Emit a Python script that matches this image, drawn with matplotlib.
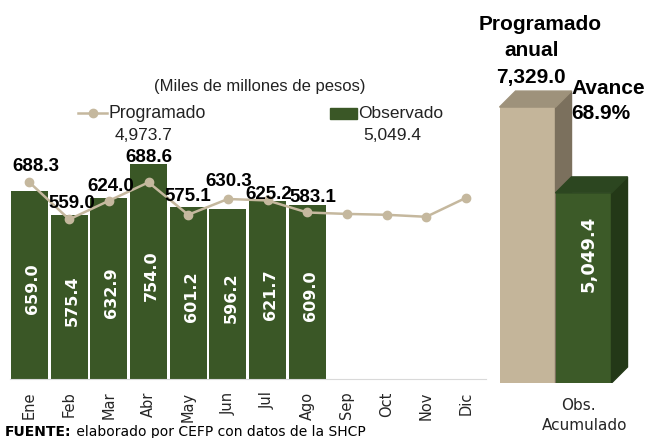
import numpy as np
import matplotlib.pyplot as plt
from matplotlib.lines import Line2D
from matplotlib.patches import Polygon, Rectangle

meses = ["Ene", "Feb", "Mar", "Abr", "May", "Jun",
         "Jul", "Ago", "Sep", "Oct", "Nov", "Dic"]
programado = [688.3, 559.0, 624.0, 688.6, 575.1, 630.3,
              625.2, 583.1, 578.0, 575.0, 568.0, 634.3]
observado = [659.0, 575.4, 632.9, 754.0, 601.2, 596.2, 621.7, 609.0]
total_programado = "4,973.7"
total_observado = "5,049.4"
programado_anual = 7329.0
observado_acumulado = 5049.4

# label offsets (pixels) for the programado values
offsets = [(6, 16), (3, 16), (2, 14), (0, 25), (0, 18), (1, 17), (1, 6), (6, 15)]

GREEN = "#3a5726"
TAN = "#c5b89e"
NARROW = ["Liberation Sans", "DejaVu Sans"]

W, H = 647, 438


def fx(x):
    return x / W


def fy(y):
    return 1 - y / H


def main():
    fig = plt.figure(figsize=(W / 100, H / 100), dpi=100)

    # monthly chart
    ax = fig.add_axes([9.66 / W, 59 / H, 476.1 / W, 319 / H])
    x = np.arange(len(meses))
    ax.bar(x[:len(observado)], observado, width=0.93, color=GREEN, zorder=2)
    ax.plot(x, programado, color=TAN, lw=1.8, marker="o", ms=6, zorder=3)
    ax.set_xlim(-0.5, 11.5)
    ax.set_ylim(0, 1117)
    for s in ["top", "right", "left"]:
        ax.spines[s].set_visible(False)
    ax.spines["bottom"].set_color("#d9d9d9")
    ax.set_yticks([])
    ax.set_xticks(x, meses, rotation=90, fontsize=10.5, color="#262626")
    ax.tick_params(axis="x", length=0, pad=9)

    for i, v in enumerate(programado[:len(observado)]):
        ax.annotate(f"{v:.1f}", (i, v), xytext=offsets[i], textcoords="offset pixels",
                    ha="center", va="center", fontsize=13.5, fontweight="bold",
                    family=NARROW, zorder=4)
    for i, v in enumerate(observado):
        ax.annotate(f"{v:.1f}", (i, v / 2), xytext=(3, -4), textcoords="offset pixels",
                    rotation=90, ha="center", va="center", color="white",
                    fontsize=11.5, fontweight="bold", zorder=4)

    # title and legend
    fig.text(fx(260), fy(87), "(Miles de millones de pesos)", ha="center", va="center",
             fontsize=12, family=NARROW, color="#222222")
    fig.add_artist(Line2D([fx(78), fx(107)], [fy(113)] * 2, color=TAN, lw=1.8))
    fig.add_artist(Line2D([fx(93)], [fy(113)], marker="o", ms=6, color=TAN))
    fig.text(fx(108), fy(113), "Programado", ha="left", va="center",
             fontsize=12.7, family=NARROW, color="#222222")
    fig.add_artist(Rectangle((fx(330), fy(119)), 27 / W, 11 / H, color=GREEN))
    fig.text(fx(358), fy(113), "Observado", ha="left", va="center",
             fontsize=12.5, family=NARROW, color="#222222")
    fig.text(fx(144), fy(135), total_programado, ha="center", va="center",
             fontsize=12.5, family=NARROW, color="#222222")
    fig.text(fx(392), fy(135), total_observado, ha="center", va="center",
             fontsize=12.5, family=NARROW, color="#222222")

    # cumulative 3d bars
    ax2 = fig.add_axes([490 / W, 55 / H, 157 / W, 383 / H])
    ax2.set_xlim(-0.67, 2.134)
    ax2.set_ylim(0, 10173)
    ax2.axis("off")
    p0 = ax2.transData.transform((0, 0))
    dx, dy = ax2.transData.inverted().transform(p0 + np.array([16, 16]))

    vals = [programado_anual, observado_acumulado]
    faces = [("#c4b59a", "#7b705d", "#9e927b"), ("#3c5a28", "#233817", "#2c4620")]
    for i, (v, (front, side, top)) in enumerate(zip(vals, faces)):
        z = 2 + 2 * i
        ax2.bar(i, v, width=1.0, color=front, zorder=z)
        ax2.add_patch(Polygon([(i + .5, 0), (i + .5, v), (i + .5 + dx, v + dy),
                               (i + .5 + dx, dy)], closed=True, color=side, zorder=z))
        ax2.add_patch(Polygon([(i - .5, v), (i + .5, v), (i + .5 + dx, v + dy),
                               (i - .5 + dx, v + dy)], closed=True, color=top, zorder=z))

    ax2.annotate(f"{observado_acumulado:,.1f}", (1, observado_acumulado / 2),
                 xytext=(5, 34), textcoords="offset pixels", rotation=90,
                 ha="center", va="center", color="white", fontsize=13,
                 fontweight="bold", zorder=10)

    bold = dict(ha="center", va="center", fontsize=15, fontweight="bold", family=NARROW)
    fig.text(fx(540), fy(24), "Programado", **bold)
    fig.text(fx(532), fy(50), "anual", **bold)
    fig.text(fx(531), fy(77), f"{programado_anual:,.1f}", **bold)
    avance = observado_acumulado / programado_anual * 100
    fig.text(fx(608), fy(89), "Avance", **bold)
    fig.text(fx(601), fy(114), f"{avance:.1f}%", **bold)

    fig.text(fx(578), fy(405), "Obs.", ha="center", va="center", fontsize=11, color="#262626")
    fig.text(fx(585), fy(425), "Acumulado", ha="center", va="center", fontsize=11,
             color="#262626")

    # source note
    t = fig.text(fx(5), fy(432), "FUENTE:", ha="left", va="center", fontsize=10,
                 fontweight="bold")
    ax.annotate(" elaborado por CEFP con datos de la SHCP", xy=(1, 0), xycoords=t,
                ha="left", va="bottom", fontsize=10, annotation_clip=False)

    fig.savefig("out.png", dpi=100)


if __name__ == "__main__":
    main()
